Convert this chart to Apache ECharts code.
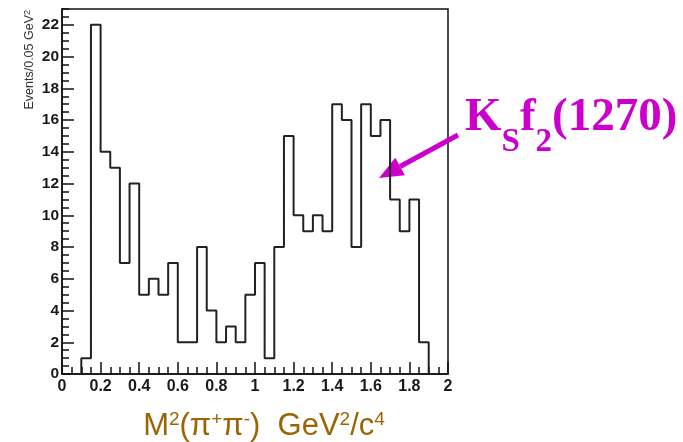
<!DOCTYPE html>
<html>
<head>
<meta charset="utf-8">
<script src="https://cdn.jsdelivr.net/npm/echarts@6/dist/echarts.min.js"></script>
<style>
html,body{margin:0;padding:0;background:#fff;}
#main{width:683px;height:442px;}
</style>
</head>
<body>
<div id="main"></div>
<script>
// Histogram bins (lower edges, GeV^2) and counts per 0.05 GeV^2
const binLow = [0.10,0.15,0.20,0.25,0.30,0.35,0.40,0.45,0.50,0.55,0.60,0.65,0.70,0.75,0.80,0.85,0.90,0.95,
                1.00,1.05,1.10,1.15,1.20,1.25,1.30,1.35,1.40,1.45,1.50,1.55,1.60,1.65,1.70,1.75,1.80,1.85];
const binWidth = 0.05;
const counts = [1,22,14,13,7,12,5,6,5,7,2,2,8,4,2,3,2,5,
                7,1,8,15,10,9,10,9,17,16,8,17,15,16,11,9,11,2];
const xTicks = [0,0.2,0.4,0.6,0.8,1,1.2,1.4,1.6,1.8,2];
const yTicks = [0,2,4,6,8,10,12,14,16,18,20,22];
const yMax = 23;

// Step outline points
const stepData = [[binLow[0], 0]];
for (let i = 0; i < binLow.length; i++) stepData.push([binLow[i], counts[i]]);
stepData.push([binLow[binLow.length-1] + binWidth, 0]);

const yMinor = [];
for (let v = 0; v <= yMax + 1e-9; v += 0.5) yMinor.push(+v.toFixed(2));

const chart = echarts.init(document.getElementById('main'), null, {renderer: 'canvas'});

const xLabelFont = {fontFamily: 'Liberation Sans, Arial, sans-serif', fontSize: 16, fontWeight: 'bold', color: '#1a1a1a'};
const yLabelFont = {fontFamily: 'Liberation Sans, Arial, sans-serif', fontSize: 15.5, fontWeight: 'bold', color: '#1a1a1a'};

// measure helper for annotation text layout
const mctx = document.createElement('canvas').getContext('2d');
function tw(text, font) { mctx.font = font; return mctx.measureText(text).width; }

const annFamily = 'Liberation Serif, Times New Roman, serif';
const bigSize = 47, subSize = 33;
const bigFont = 'bold ' + bigSize + 'px ' + annFamily;
const subFont = 'bold ' + subSize + 'px ' + annFamily;
const annParts = [
  {t: 'K', sub: false}, {t: 'S', sub: true}, {t: 'f', sub: false}, {t: '2', sub: true}, {t: '(1270)', sub: false}
];
const annColor = '#CC00CC';
const annX0 = 465, annBase = 141, annSubBase = 159;
const annEls = [];
let cx = annX0;
annParts.forEach(p => {
  const f = p.sub ? subFont : bigFont;
  annEls.push({
    type: 'text', x: cx, y: p.sub ? annSubBase : annBase,
    style: {text: p.t, font: f, fill: annColor, textAlign: 'left', textVerticalAlign: 'bottom'}
  });
  cx += tw(p.t, f);
});

// arrow
const tail = [458, 135], tip = [379, 178];
const dx = tip[0]-tail[0], dy = tip[1]-tail[1];
const L = Math.hypot(dx, dy), ux = dx/L, uy = dy/L, nx = -uy, ny = ux;
const headLen = 24, headHalf = 10;
const bc = [tip[0]-ux*headLen, tip[1]-uy*headLen];

chart.setOption({
  animation: false,
  backgroundColor: '#fff',
  grid: {left: 62, right: 235, top: 9, bottom: 68, show: true, borderColor: '#111', borderWidth: 1.5, containLabel: false},
  xAxis: {
    type: 'value', min: 0, max: 2, interval: 0.2, position: 'bottom',
    axisLine: {show: true, onZero: false, lineStyle: {color: '#111', width: 1.5}},
    axisTick: {show: true, inside: true, length: 12, lineStyle: {color: '#111', width: 1.5}},
    minorTick: {show: true, splitNumber: 4, length: 7, lineStyle: {color: '#111', width: 1.5}},
    splitLine: {show: false}, minorSplitLine: {show: false},
    axisLabel: Object.assign({margin: 5, formatter: v => String(+v.toFixed(2)), customValues: xTicks}, xLabelFont)
  },
  yAxis: [{
    type: 'value', min: 0, max: yMax, position: 'left',
    axisLine: {show: true, onZero: false, lineStyle: {color: '#111', width: 1.5}},
    axisTick: {show: true, inside: true, length: 12, customValues: yTicks, lineStyle: {color: '#111', width: 1.5}},
    splitLine: {show: false},
    axisLabel: Object.assign({margin: 3, customValues: yTicks}, yLabelFont)
  }, {
    type: 'value', min: 0, max: yMax, position: 'left',
    axisLine: {show: false},
    axisTick: {show: true, inside: true, length: 7, customValues: yMinor, lineStyle: {color: '#111', width: 1.5}},
    splitLine: {show: false},
    axisLabel: {show: false}
  }],
  series: [{
    type: 'line', step: 'end', data: stepData, symbol: 'none', silent: true,
    lineStyle: {color: '#222', width: 2}
  }],
  graphic: [
    {
      type: 'text', x: 30, y: 10, rotation: Math.PI/2,
      style: {
        text: '{a|Events/0.05 GeV}{s|2}',
        textAlign: 'right', textVerticalAlign: 'middle',
        rich: {
          a: {fontFamily: 'Liberation Sans, Arial, sans-serif', fontSize: 12.5, fill: '#333', color: '#333', lineHeight: 13},
          s: {fontFamily: 'Liberation Sans, Arial, sans-serif', fontSize: 9, fill: '#333', color: '#333', lineHeight: 7, verticalAlign: 'top'}
        }
      }
    },
    {
      type: 'text', x: 264, y: 426,
      style: {
        text: '{a|M}{s|2}{a|(π}{s|+}{a|π}{s|-}{a|)  GeV}{s|2}{a|/c}{s|4}',
        textAlign: 'center', textVerticalAlign: 'middle',
        rich: {
          a: {fontFamily: 'Liberation Sans, Arial, sans-serif', fontSize: 31, fill: '#9A6503', color: '#9A6503', lineHeight: 32},
          s: {fontFamily: 'Liberation Sans, Arial, sans-serif', fontSize: 19, fill: '#9A6503', color: '#9A6503', lineHeight: 15, verticalAlign: 'top'}
        }
      }
    },
    {
      type: 'line', shape: {x1: tail[0], y1: tail[1], x2: bc[0], y2: bc[1]},
      style: {stroke: annColor, lineWidth: 5}
    },
    {
      type: 'polygon',
      shape: {points: [tip, [bc[0]+nx*headHalf, bc[1]+ny*headHalf], [bc[0]-nx*headHalf, bc[1]-ny*headHalf]]},
      style: {fill: annColor}
    }
  ].concat(annEls)
});
</script>
</body>
</html>
